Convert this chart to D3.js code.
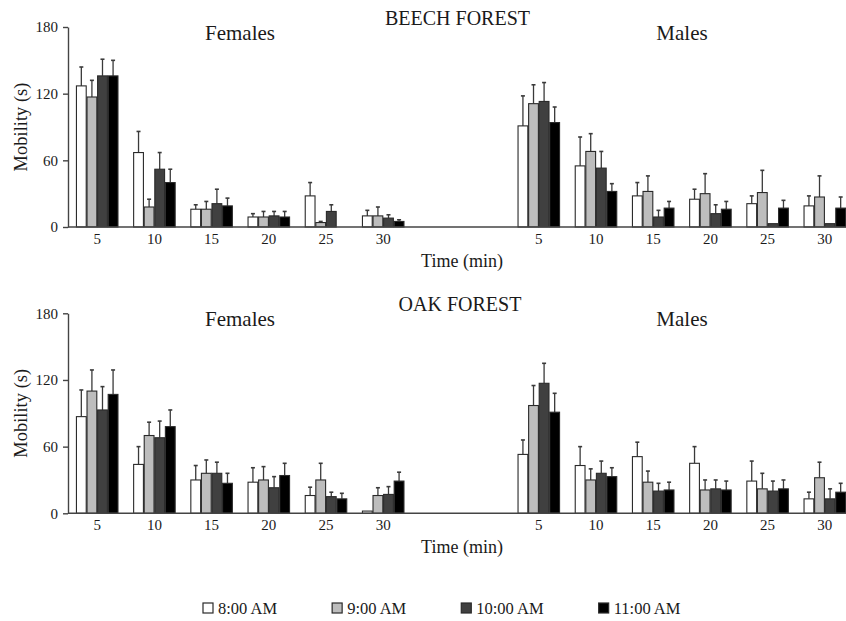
<!DOCTYPE html>
<html>
<head>
<meta charset="utf-8">
<script src="https://cdn.jsdelivr.net/npm/d3@7"></script>
<style>
  html, body { margin: 0; padding: 0; background: #fff; }
  svg { display: block; }
  text { font-family: "Liberation Serif", "Times New Roman", serif; fill: #1a1a1a; }
</style>
</head>
<body>
<svg id="chart" width="846" height="621"></svg>
<script>
// ---- data ----
const times = ["5", "10", "15", "20", "25", "30"];
const seriesNames = ["8:00 AM", "9:00 AM", "10:00 AM", "11:00 AM"];
const yTicks = [0, 60, 120, 180];
const panelTitles = ["BEECH FOREST", "OAK FOREST"];
const sexLabels = ["Females", "Males"];

// Beech forest – females (mean, SE)
const beechF_8 = [127, 67, 16, 9, 28, 10];
const beechF_9 = [117, 18, 16, 9, 4, 10];
const beechF_10 = [136, 52, 21, 10, 14, 8];
const beechF_11 = [136, 40, 19, 9, 0, 5];
const beechF_8_se = [17, 19, 4, 3, 12, 5];
const beechF_9_se = [15, 7, 7, 5, 1, 8];
const beechF_10_se = [15, 15, 13, 4, 6, 3];
const beechF_11_se = [14, 12, 7, 5, 0, 1.5];

// Beech forest – males
const beechM_8 = [91, 55, 28, 25, 21, 19];
const beechM_9 = [111, 68, 32, 30, 31, 27];
const beechM_10 = [113, 53, 9, 12, 3, 3];
const beechM_11 = [94, 32, 17, 16, 17, 17];
const beechM_8_se = [27, 26, 12, 9, 7, 9];
const beechM_9_se = [17, 16, 14, 18, 20, 19];
const beechM_10_se = [17, 15, 6, 8, 0, 0];
const beechM_11_se = [14, 7, 6, 7, 7, 10];

// Oak forest – females
const oakF_8 = [87, 44, 30, 28, 16, 2];
const oakF_9 = [110, 70, 36, 30, 30, 16];
const oakF_10 = [93, 68, 36, 23, 15, 17];
const oakF_11 = [107, 78, 27, 34, 13, 29];
const oakF_8_se = [24, 16, 13, 13, 7.5, 0];
const oakF_9_se = [19, 12, 12, 12, 15, 7];
const oakF_10_se = [21, 15, 10, 10, 4, 7];
const oakF_11_se = [22, 15, 9, 11, 5, 8];

// Oak forest – males
const oakM_8 = [53, 43, 51, 45, 29, 13];
const oakM_9 = [97, 30, 28, 21, 22, 32];
const oakM_10 = [117, 36, 20, 22, 20, 13];
const oakM_11 = [91, 33, 21, 21, 22, 19];
const oakM_8_se = [13, 17, 13, 15, 18, 6];
const oakM_9_se = [18, 10, 10, 9, 14, 14];
const oakM_10_se = [18, 11, 7, 8, 9, 9];
const oakM_11_se = [17, 8, 7, 8, 8, 8];

const fills = ["#ffffff", "#bdbdbd", "#404040", "#000000"];

const panels = [
  { title: panelTitles[0],
    F: { means: [beechF_8, beechF_9, beechF_10, beechF_11], se: [beechF_8_se, beechF_9_se, beechF_10_se, beechF_11_se] },
    M: { means: [beechM_8, beechM_9, beechM_10, beechM_11], se: [beechM_8_se, beechM_9_se, beechM_10_se, beechM_11_se] } },
  { title: panelTitles[1],
    F: { means: [oakF_8, oakF_9, oakF_10, oakF_11], se: [oakF_8_se, oakF_9_se, oakF_10_se, oakF_11_se] },
    M: { means: [oakM_8, oakM_9, oakM_10, oakM_11], se: [oakM_8_se, oakM_9_se, oakM_10_se, oakM_11_se] } }
];

// ---- layout ----
const svg = d3.select("#chart");
const axisX0 = 68, axisX1 = 846;
const panelBottoms = [227, 513.3];
const panelHeight = 200;
const groupSpan = 343.2;

const xF = d3.scaleBand().domain(times).range([68.6, 68.6 + groupSpan]).paddingInner(0.26).paddingOuter(0.13);
const xM = d3.scaleBand().domain(times).range([510.2, 510.2 + groupSpan]).paddingInner(0.26).paddingOuter(0.13);
const xS = d3.scaleBand().domain(seriesNames).range([0, xF.bandwidth()]);

panels.forEach((p, pi) => {
  const y0 = panelBottoms[pi];
  const y = d3.scaleLinear().domain([0, 180]).range([y0, y0 - panelHeight]);
  const g = svg.append("g");

  [[xF, p.F], [xM, p.M]].forEach(([xs, d]) => {
    seriesNames.forEach((s, si) => {
      times.forEach((t, ti) => {
        const v = d.means[si][ti];
        const e = d.se[si][ti];
        const bx = xs(t) + xS(s);
        const cx = bx + xS.bandwidth() / 2;
        if (e > 0) {
          g.append("line")
            .attr("x1", cx).attr("x2", cx)
            .attr("y1", y(v)).attr("y2", y(v + e))
            .attr("stroke", "#3a3a3a").attr("stroke-width", 1.3);
          g.append("line")
            .attr("x1", cx - 2).attr("x2", cx + 2)
            .attr("y1", y(v + e)).attr("y2", y(v + e))
            .attr("stroke", "#3a3a3a").attr("stroke-width", 1.6);
        }
        if (v > 0) {
          g.append("rect")
            .attr("x", bx + 0.4).attr("y", y(v))
            .attr("width", xS.bandwidth() - 0.8).attr("height", y(0) - y(v))
            .attr("fill", fills[si]).attr("stroke", "#2a2a2a").attr("stroke-width", 1.1);
        }
      });
    });
    const ax = g.append("g").attr("transform", `translate(0,${y0})`)
      .call(d3.axisBottom(xs).tickSize(0).tickPadding(6.5));
    ax.select(".domain").remove();
    ax.selectAll("text").attr("font-size", 15).attr("font-family", "Liberation Serif").attr("fill", "#1a1a1a");
  });

  const ay = g.append("g").attr("transform", `translate(${axisX0},0)`)
    .call(d3.axisLeft(y).tickValues(yTicks).tickSize(5).tickSizeOuter(0).tickPadding(5));
  ay.select(".domain").attr("stroke", "#444").attr("stroke-width", 1.4);
  ay.selectAll(".tick line").attr("stroke", "#444").attr("stroke-width", 1.4);
  ay.selectAll("text").attr("font-size", 15).attr("font-family", "Liberation Serif").attr("fill", "#1a1a1a");

  g.append("line").attr("x1", axisX0).attr("x2", axisX1)
    .attr("y1", y0).attr("y2", y0).attr("stroke", "#444").attr("stroke-width", 1.4);

  g.append("text")
    .attr("transform", `translate(27,${y0 - panelHeight / 2}) rotate(-90)`)
    .attr("text-anchor", "middle").attr("font-size", 18.5)
    .text("Mobility (s)");

  g.append("text").attr("x", 462).attr("y", y0 + 39.5)
    .attr("text-anchor", "middle").attr("font-size", 18)
    .text("Time (min)");

  g.append("text").attr("x", pi === 0 ? 457.5 : 460).attr("y", y0 - (pi === 0 ? 202 : 202.6))
    .attr("text-anchor", "middle").attr("font-size", 20)
    .text(p.title);

  g.append("text").attr("x", 240).attr("y", y0 - 187).attr("text-anchor", "middle").attr("font-size", 21).text(sexLabels[0]);
  g.append("text").attr("x", 682).attr("y", y0 - 187).attr("text-anchor", "middle").attr("font-size", 21).text(sexLabels[1]);
});

// legend
const leg = svg.append("g");
let lx = 203;
seriesNames.forEach((s, i) => {
  leg.append("rect").attr("x", lx).attr("y", 603).attr("width", 10).attr("height", 10)
    .attr("fill", fills[i]).attr("stroke", "#2a2a2a").attr("stroke-width", 1.2);
  const t = leg.append("text").attr("x", lx + 15).attr("y", 613.5).attr("font-size", 16.5).text(s);
  lx += 15 + t.node().getComputedTextLength() + 55;
});
</script>
</body>
</html>
